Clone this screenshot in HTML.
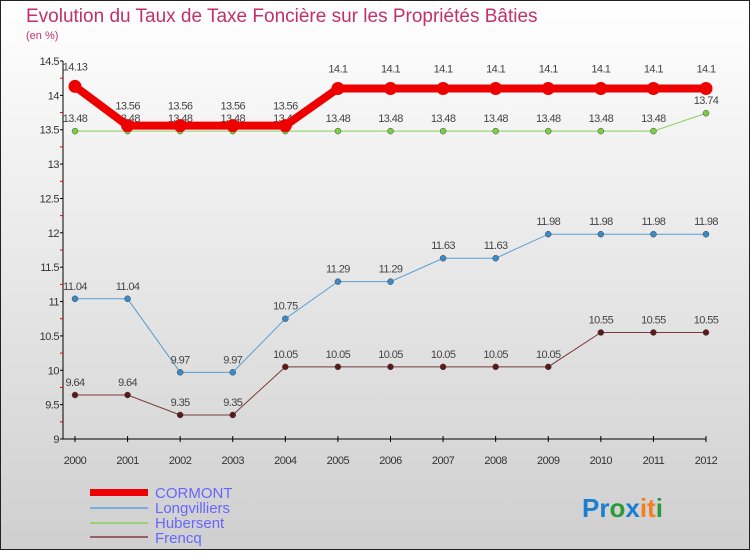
<!DOCTYPE html>
<html><head><meta charset="utf-8"><style>
body{margin:0;width:750px;height:550px;overflow:hidden;font-family:"Liberation Sans",sans-serif}
svg text{font-family:"Liberation Sans",sans-serif}
</style></head><body>
<svg id="c" width="750" height="550">
<defs><linearGradient id="bg" x1="0" y1="0" x2="0" y2="1"><stop offset="0" stop-color="#ffffff"/><stop offset="1" stop-color="#cfcfcf"/></linearGradient></defs>
<rect x="0.5" y="0.5" width="749" height="549" fill="url(#bg)" stroke="#222"/>
<text x="26" y="22" font-size="19" fill="#c0306a">Evolution du Taux de Taxe Foncière sur les Propriétés Bâties</text>
<text x="26" y="39" font-size="11" fill="#c0306a">(en %)</text>
<g id="axes"></g><g id="series"></g>
<g>
<rect x="90" y="489" width="58" height="7" fill="#e00"/>
<text x="155" y="498" font-size="15" fill="#66f">CORMONT</text>
<line x1="90" y1="508" x2="148" y2="508" stroke="#7ab0d8" stroke-width="2"/>
<text x="155" y="513" font-size="15" fill="#66f">Longvilliers</text>
<line x1="90" y1="523" x2="148" y2="523" stroke="#9ad07a" stroke-width="2"/>
<text x="155" y="528" font-size="15" fill="#66f">Hubersent</text>
<line x1="90" y1="537" x2="148" y2="537" stroke="#9a6060" stroke-width="2"/>
<text x="155" y="543" font-size="15" fill="#66f">Frencq</text>
</g>
<text x="582" y="517" font-size="26" font-weight="bold"><tspan fill="#1a7fd0">Pr</tspan><tspan fill="#2a9a3a">o</tspan><tspan fill="#1a7fd0">x</tspan><tspan fill="#f08020">it</tspan><tspan fill="#2a9a3a">i</tspan></text>
</svg>
<script>
const years=[2000,2001,2002,2003,2004,2005,2006,2007,2008,2009,2010,2011,2012];
const cormont=[14.13,13.56,13.56,13.56,13.56,14.1,14.1,14.1,14.1,14.1,14.1,14.1,14.1];
const longvilliers=[11.04,11.04,9.97,9.97,10.75,11.29,11.29,11.63,11.63,11.98,11.98,11.98,11.98];
const hubersent=[13.48,13.48,13.48,13.48,13.48,13.48,13.48,13.48,13.48,13.48,13.48,13.48,13.74];
const frencq=[9.64,9.64,9.35,9.35,10.05,10.05,10.05,10.05,10.05,10.05,10.55,10.55,10.55];
const yTicks=[9,9.5,10,10.5,11,11.5,12,12.5,13,13.5,14,14.5];
const NS="http://www.w3.org/2000/svg";
const x=i=>75+i*(706-75)/(years.length-1);
const y=v=>439-(v-9)*(439-61)/5.5;
function el(t,a,p){const e=document.createElementNS(NS,t);for(const k in a)e.setAttribute(k,a[k]);p.appendChild(e);return e;}
const ax=document.getElementById('axes'),sg=document.getElementById('series');
let a=el('line',{x1:63,y1:61,x2:63,y2:439,stroke:'#000'},ax);


a=el('line',{x1:63,y1:439,x2:706,y2:439,stroke:'#000'},ax);


yTicks.forEach(v=>{
 el('line',{x1:60,y1:y(v),x2:63,y2:y(v),stroke:'#000'},ax);
 if(v<14.5)el('line',{x1:60,y1:y(v+0.25),x2:63,y2:y(v+0.25),stroke:'#e00'},ax);
 const t=el('text',{x:59,y:y(v)+4,'font-size':11,'text-anchor':'end',fill:'#333','letter-spacing':'-0.5'},ax);
 t.textContent=v;
 
 
});
years.forEach((yr,i)=>{
 el('line',{x1:x(i),y1:436,x2:x(i),y2:442,stroke:'#000'},ax);
 const t=el('text',{x:x(i),y:464,'font-size':11,'text-anchor':'middle',fill:'#333','letter-spacing':'-0.5'},ax);
 t.textContent=yr;
 
 
});
function series(d,name,col,w,r,dot,lab){
 const g=el('g',{},sg);
 
 
 const l=el('polyline',{points:d.map((v,i)=>x(i)+','+y(v)).join(' '),fill:'none',stroke:col,'stroke-width':w},g);
 
 
 d.forEach((v,i)=>{
  const c=el('circle',{cx:x(i),cy:y(v),r:r,fill:dot,stroke:r>5?'none':'#444','stroke-width':0.5},g);
  
  
  const t=el('text',{x:x(i),y:y(v)-lab,'font-size':11,'text-anchor':'middle',fill:'#444','letter-spacing':'-0.6'},g);
  t.textContent=v;
  
  
 });
}
series(frencq,'frencq','#7a3a3a',1,3,'#5a1a1a',9);
series(longvilliers,'longvilliers','#5a9ed0',1,3,'#3a8ac8',9);
series(hubersent,'hubersent','#8ad060',1,3,'#7ad040',9);
series(cormont,'cormont','#e00',8,6.5,'#e00',16);
</script>
</body></html>
